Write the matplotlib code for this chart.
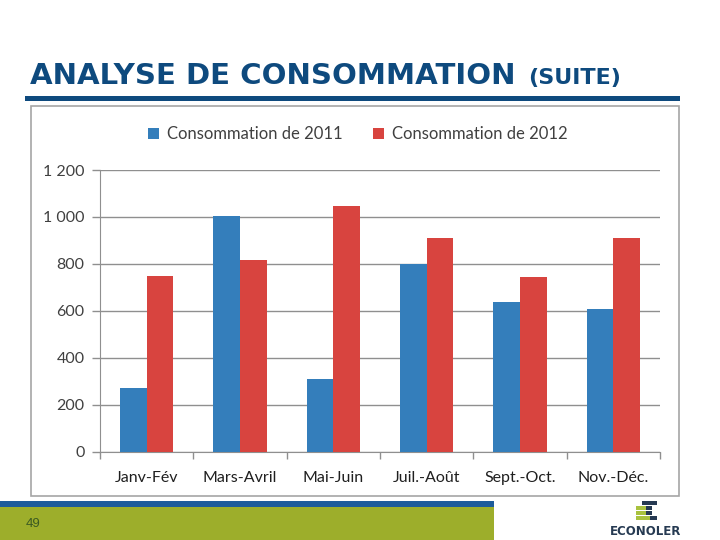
import matplotlib
matplotlib.use("Agg")
import matplotlib.pyplot as plt
from matplotlib.patches import Rectangle
from matplotlib.ticker import FuncFormatter, FixedLocator

categories = ["Janv-Fév", "Mars-Avril", "Mai-Juin", "Juil.-Août", "Sept.-Oct.", "Nov.-Déc."]
values_2011 = [272, 1005, 310, 800, 637, 607]
values_2012 = [748, 816, 1048, 910, 744, 910]
series_names = ["Consommation de 2011", "Consommation de 2012"]
y_ticks = [0, 200, 400, 600, 800, 1000, 1200]

W, H = 720, 540
BLUE = "#347EBB"
RED = "#D8443F"
TITLE_C = "#0E4A7E"

fig = plt.figure(figsize=(W / 100, H / 100), dpi=100)
fig.patch.set_facecolor("white")


def fx(x):
    return x / W


def fy(y):
    return 1 - y / H


def frect(x0, y0, x1, y1, z=-1, **kw):
    fig.patches.append(Rectangle((fx(x0), fy(y1)), fx(x1) - fx(x0), fy(y0) - fy(y1),
                                 transform=fig.transFigure, figure=fig, zorder=z, **kw))


# Title
fig.text(fx(30), fy(84), "ANALYSE DE CONSOMMATION", fontsize=21.1, color=TITLE_C,
         family="DejaVu Sans", fontweight="bold", va="baseline", ha="left")
fig.text(fx(528), fy(84), "(SUITE)", fontsize=16, color=TITLE_C,
         family="DejaVu Sans", fontweight="bold", va="baseline", ha="left")
frect(25, 96, 680, 101, facecolor=TITLE_C, edgecolor="none")

# Chart box
frect(31.5, 105.5, 679, 496, facecolor="white", edgecolor="#a6a6a6", linewidth=1.2)

# Bottom bands
frect(0, 501, 494, 507, facecolor="#1D5C9B", edgecolor="none")
frect(0, 507, 494, 540, facecolor="#9DAE2B", edgecolor="none")
fig.text(fx(26), fy(527), "49", fontsize=9.5, color="#3B5A22", family="Liberation Sans",
         va="baseline", ha="left")

# Logo
NAVY = "#263A52"
LIME = "#A9C23F"
frect(642, 501, 657, 505, facecolor=NAVY, edgecolor="none")
frect(636, 506, 646, 509.5, facecolor=LIME, edgecolor="none")
frect(646, 506, 652, 509.5, facecolor=NAVY, edgecolor="none")
frect(636, 511, 646, 514.5, facecolor=LIME, edgecolor="none")
frect(646, 511, 652, 514.5, facecolor=NAVY, edgecolor="none")
frect(636, 516, 650, 520, facecolor=LIME, edgecolor="none")
frect(650, 516, 657, 520, facecolor=NAVY, edgecolor="none")
fig.text(fx(646), fy(535), "ECONOLER", fontsize=8.5, color=NAVY, family="DejaVu Sans",
         fontweight="bold", va="baseline", ha="center")

# Axes
ax_l, ax_r, ax_t, ax_b = 100, 660, 170, 451.7
ax = fig.add_axes([fx(ax_l), fy(ax_b), fx(ax_r) - fx(ax_l), fy(ax_t) - fy(ax_b)])
ax.set_facecolor("none")

x = list(range(len(categories)))
bw = 0.284
ax.bar([i - bw / 2 for i in x], values_2011, width=bw, color=BLUE, label=series_names[0], zorder=3)
ax.bar([i + bw / 2 for i in x], values_2012, width=bw, color=RED, label=series_names[1], zorder=3)

ax.set_xlim(-0.5, len(categories) - 0.5)
ax.set_ylim(0, 1200)
ax.set_yticks(y_ticks)
ax.yaxis.set_major_formatter(FuncFormatter(lambda v, p: f"{int(v):,}".replace(",", " ")))
ax.grid(axis="y", color="#8f8f8f", linewidth=1.0, zorder=0)
ax.set_axisbelow(True)

ax.xaxis.set_major_locator(FixedLocator([i - 0.5 for i in range(len(categories) + 1)]))
ax.set_xticklabels([""] * (len(categories) + 1))
ax.set_xticks(x, minor=True)
ax.set_xticklabels(categories, minor=True)
ax.tick_params(axis="x", which="major", length=5, color="#8f8f8f", width=1)
ax.tick_params(axis="x", which="minor", length=0, pad=14, labelsize=11.5, labelcolor="#1f1f1f")
ax.tick_params(axis="y", length=6, color="#8f8f8f", width=1, pad=5, labelsize=11.5, labelcolor="#404040")
for lab in ax.get_xticklabels(minor=True) + ax.get_yticklabels():
    lab.set_family("Lato")

for s in ["top", "right"]:
    ax.spines[s].set_visible(False)
ax.spines["left"].set_color("#8f8f8f")
ax.spines["bottom"].set_color("#8f8f8f")

leg = ax.legend(loc="center", bbox_to_anchor=(fx(358), fy(134)), bbox_transform=fig.transFigure,
                ncol=2, frameon=False, handlelength=0.65, handleheight=0.65, handletextpad=0.5,
                columnspacing=1.8, prop={"family": "Lato", "size": 12})
for t in leg.get_texts():
    t.set_color("#404040")

fig.savefig("out.png", dpi=100, facecolor="white")
